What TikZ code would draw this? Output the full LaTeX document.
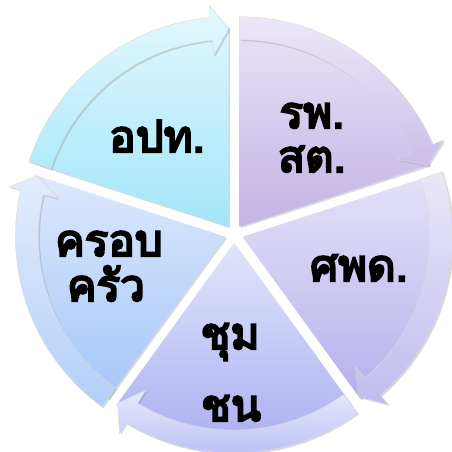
\documentclass[tikz,border=0pt]{standalone}
\usepackage{fontspec}
\newfontfamily\thaifont[Script=Thai, FakeBold=5]{Loma}
\usetikzlibrary{shadows}
\definecolor{tlT}{HTML}{DDF6FD}\definecolor{tlB}{HTML}{A2E6F9}
\definecolor{lfT}{HTML}{DCE8FC}\definecolor{lfB}{HTML}{A6C6F8}
\definecolor{btT}{HTML}{E2E4FB}\definecolor{btB}{HTML}{A8ADF0}
\definecolor{rtT}{HTML}{E4E2F7}\definecolor{rtB}{HTML}{B6B0EC}
\definecolor{trT}{HTML}{E8E2F6}\definecolor{trB}{HTML}{C2B3E4}
\newcommand\mysegment[3]{%
  \begin{scope}[shift={(C)}, shift={({#1+36}:9)}]
    \path[top color=#2, bottom color=#3, wshadow]
      (0,0) -- (#1:200) arc[start angle=#1, end angle=#1+72, radius=200] -- cycle;
    \path[top color=#2!80!white, bottom color=#3!85!white, wshadow, draw=black!15, line width=0.4pt]
      ({#1+72}:210) arc[start angle=#1+72, end angle=#1+5, radius=210]
      -- ({#1+5}:222) -- (#1:198) -- ({#1+5}:172) -- ({#1+5}:187)
      arc[start angle=#1+5, end angle=#1+72, radius=187] -- cycle;
  \end{scope}}
\begin{document}
\begin{tikzpicture}[x=1pt,y=1pt,
  lbl/.style={font=\thaifont\fontsize{44}{50}\selectfont, inner sep=0pt, anchor=base},
  wshadow/.style={drop shadow={opacity=0.3, shadow xshift=1.5pt, shadow yshift=-1.5pt}}]
\useasboundingbox[fill=white] (0,0) rectangle (452,452);
\coordinate (C) at (234,218);
\mysegment{90}{tlT}{tlB}
\mysegment{162}{lfT}{lfB}
\mysegment{234}{btT}{btB}
\mysegment{306}{rtT}{rtB}
\mysegment{18}{trT}{trB}
% labels
\node[lbl] (t1) at (157,300) {อปท.};
\node[lbl] (t2a) at (312,324) {รพ.};
\node[lbl] (t2b) at (312,280) {สต.};
\node[lbl] (t3) at (359,171) {ศพด.};
\node[lbl] (t4a) at (230,103) {ชุม};
\node[lbl] (t4b) at (231,31) {ชน};
\node[lbl] (t5a) at (109,196) {ครอบ};
\node[lbl] (t5b) at (106,151) {ครัว};
\end{tikzpicture}
\end{document}
